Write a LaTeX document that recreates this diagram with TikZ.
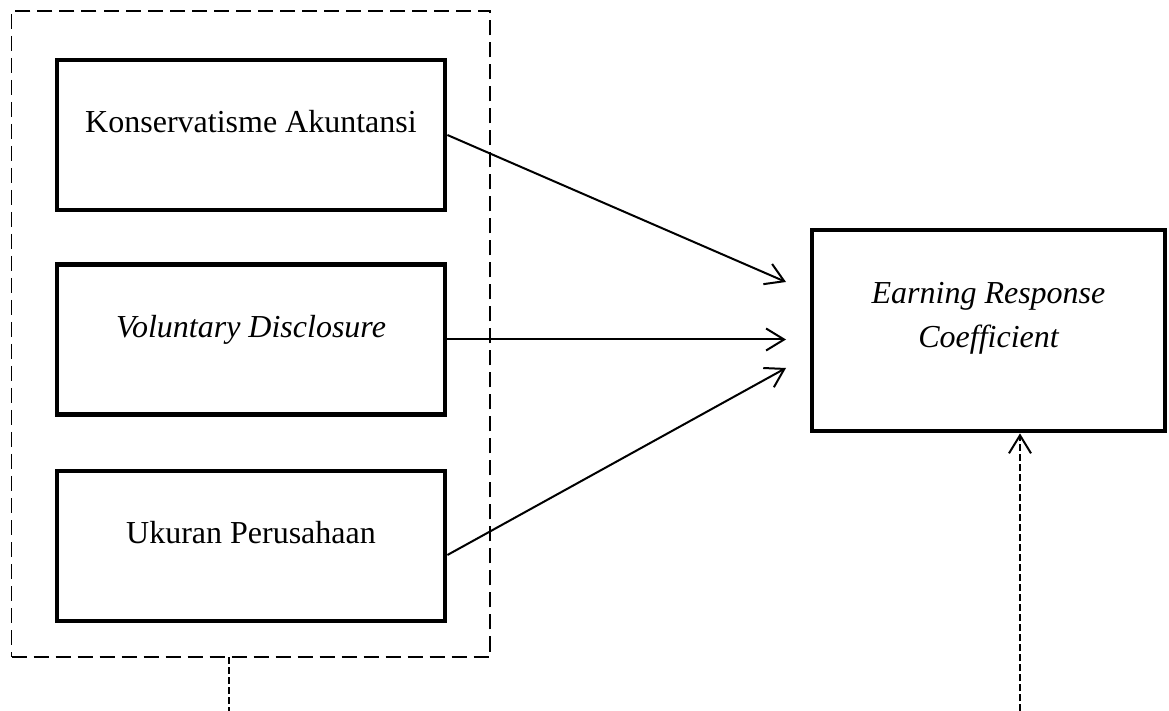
\documentclass[tikz,border=0pt]{standalone}
\usepackage{fontspec}
\setmainfont{Liberation Serif}
\usetikzlibrary{arrows.meta}
\begin{document}
\begin{tikzpicture}[x=0.5pt,y=-0.5pt,
  varbox/.style={draw, line width=2.4pt, rectangle, inner sep=0pt, align=center,
    text height=11pt, text depth=13pt, font=\fontsize{16}{22}\selectfont},
  ercbox/.style={draw, line width=2.4pt, rectangle, inner sep=0pt},
  grpbox/.style={draw, line width=0.9pt, dash pattern=on 7.5pt off 3.5pt, rectangle, inner sep=0pt},
  arr/.style={line width=1pt, -{Straight Barb[length=9pt,width=11pt]}},
  dline/.style={line width=1pt, dash pattern=on 3.5pt off 1.5pt},
  lbl/.style={align=center, inner sep=0pt, font=\fontsize{16}{22}\selectfont}]
\useasboundingbox (0,0) rectangle (1169,711);
\node[grpbox, minimum width=239.25pt, minimum height=323pt] (grp) at (250.75,334) {};
\node[varbox, minimum width=194pt, minimum height=75pt] (b1) at (251,135) {Konservatisme Akuntansi};
\node[varbox, minimum width=194pt, minimum height=75pt] (b2) at (251,339.5) {\itshape Voluntary Disclosure};
\node[varbox, minimum width=194pt, minimum height=75pt] (b3) at (251,546) {Ukuran Perusahaan};
\node[ercbox, minimum width=176.5pt, minimum height=100.5pt] (erc) at (988.5,330.5) {};
\node[lbl] (ercl) at (988.5,318) {\itshape Earning Response\\\itshape Coefficient};
\coordinate (e1) at (786,282);
\coordinate (e2) at (786,339.5);
\coordinate (e3) at (786,368);
\draw[arr] (b1.east) -- (e1);
\draw[arr] (b2.east) -- (e2);
\draw[arr] ([yshift=-4.5pt]b3.east) -- (e3);
\coordinate (gb) at (229,657);
\coordinate (gend) at (229,711);
\draw[dline] (gb) -- (gend);
\coordinate (ub) at (1020,711);
\draw[dline, arr, dash pattern=on 3.5pt off 1.5pt] (ub) -- (ub |- erc.south);
\end{tikzpicture}
\end{document}
